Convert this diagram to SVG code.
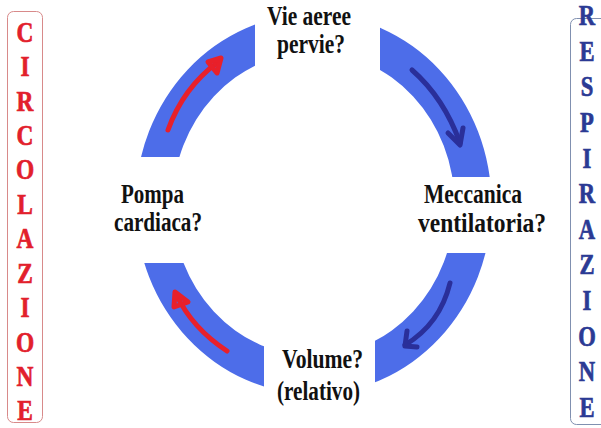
<svg xmlns="http://www.w3.org/2000/svg" width="601" height="428" viewBox="0 0 601 428">
  <style>
    .lbl { font-family: "Liberation Serif", "Times New Roman", serif; font-weight: bold; font-size: 28px; fill: #111; }
    .side { font-family: "Liberation Serif", "Times New Roman", serif; font-weight: bold; text-anchor: middle; stroke-width: 0.7; }
    .red { fill: #e2202c; stroke: #e2202c; font-size: 30px; }
    .blu { fill: #2b3a94; stroke: #2b3a94; font-size: 29px; }
    .arc { fill: #4d6de9; fill-rule: evenodd; }
    .ar { fill: none; stroke-width: 5; stroke-linecap: round; stroke-linejoin: round; }
    .ar-red { stroke: #e8202a; }
    .ar-blue { stroke: #2a2f9a; }
  </style>
  <defs>
    <path id="ring" d="M135.5,204 a178,190 0 1,0 356,0 a178,190 0 1,0 -356,0 Z M172.5,204 a141,152 0 1,0 282,0 a141,152 0 1,0 -282,0 Z"/>
    <clipPath id="cTL"><rect x="0" y="0" width="255" height="157"/></clipPath>
    <clipPath id="cTR"><rect x="380" y="0" width="221" height="177"/></clipPath>
    <clipPath id="cBR"><rect x="375" y="253" width="226" height="175"/></clipPath>
    <clipPath id="cBL"><rect x="0" y="263" width="264" height="165"/></clipPath>
  </defs>
  <rect width="601" height="428" fill="#ffffff"/>

  <g id="connectors">
    <use href="#ring" class="arc" clip-path="url(#cTL)"/>
    <use href="#ring" class="arc" clip-path="url(#cTR)"/>
    <use href="#ring" class="arc" clip-path="url(#cBR)"/>
    <use href="#ring" class="arc" clip-path="url(#cBL)"/>
    <path class="ar ar-red" d="M168,130 Q183,88 218,62"/>
    <polygon class="ar ar-red" fill="#e8202a" points="208,62 221,58 217,73"/>
    <path class="ar ar-blue" d="M412,70 Q444,98 460,143"/>
    <polyline class="ar ar-blue" points="448,133 460,145 463,128"/>
    <path class="ar ar-blue" d="M450,283 Q440,324 405,345"/>
    <polyline class="ar ar-blue" points="407,331 405,346 417,347"/>
    <path class="ar ar-red" d="M227,351 Q192,328 176,294"/>
    <polygon class="ar ar-red" fill="#e8202a" points="174,307 175,292 188,302"/>
  </g>

  <g id="node-vie">
    <text class="lbl" x="267" y="25" textLength="84" lengthAdjust="spacingAndGlyphs">Vie aeree</text>
    <text class="lbl" x="277" y="53" textLength="68" lengthAdjust="spacingAndGlyphs">pervie?</text>
  </g>
  <g id="node-meccanica">
    <text class="lbl" x="424" y="203" textLength="98" lengthAdjust="spacingAndGlyphs">Meccanica</text>
    <text class="lbl" x="418" y="232" textLength="128" lengthAdjust="spacingAndGlyphs">ventilatoria?</text>
  </g>
  <g id="node-volume">
    <text class="lbl" x="282" y="368" textLength="81" lengthAdjust="spacingAndGlyphs">Volume?</text>
    <text class="lbl" x="277" y="400" textLength="83" lengthAdjust="spacingAndGlyphs">(relativo)</text>
  </g>
  <g id="node-pompa">
    <text class="lbl" x="121" y="203" textLength="63" lengthAdjust="spacingAndGlyphs">Pompa</text>
    <text class="lbl" x="114" y="231" textLength="88" lengthAdjust="spacingAndGlyphs">cardiaca?</text>
  </g>

  <g id="node-circolazione">
    <rect x="7.5" y="11.5" width="35" height="411" rx="6" fill="none" stroke="#d88a8a" stroke-width="1"/>
    <g class="side red" transform="translate(25,0) scale(0.78,1)">
      <text x="0" y="41.7">C</text>
      <text x="0" y="76.2">I</text>
      <text x="0" y="110.6">R</text>
      <text x="0" y="145.1">C</text>
      <text x="0" y="179.5">O</text>
      <text x="0" y="214">L</text>
      <text x="0" y="248.4">A</text>
      <text x="0" y="282.9">Z</text>
      <text x="0" y="317.3">I</text>
      <text x="0" y="351.8">O</text>
      <text x="0" y="386.2">N</text>
      <text x="0" y="420.2">E</text>
    </g>
  </g>

  <g id="node-respirazione">
    <rect x="570.5" y="18.5" width="40" height="406" rx="6" fill="none" stroke="#8090b0" stroke-width="1"/>
    <g class="side blu" transform="translate(587,0) scale(0.78,1)">
      <text x="0" y="25">R</text>
      <text x="0" y="60.6">E</text>
      <text x="0" y="96.3">S</text>
      <text x="0" y="131.9">P</text>
      <text x="0" y="167.6">I</text>
      <text x="0" y="203.2">R</text>
      <text x="0" y="238.8">A</text>
      <text x="0" y="274.5">Z</text>
      <text x="0" y="310.1">I</text>
      <text x="0" y="345.8">O</text>
      <text x="0" y="381.4">N</text>
      <text x="0" y="417">E</text>
    </g>
  </g>
</svg>
